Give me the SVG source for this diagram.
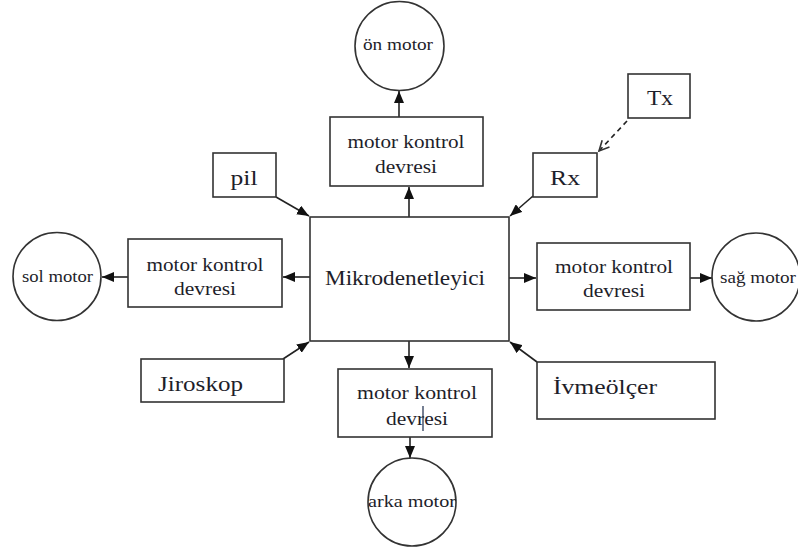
<svg xmlns="http://www.w3.org/2000/svg" width="798" height="548" viewBox="0 0 798 548" font-family="Liberation Serif, Times New Roman, DejaVu Serif, serif">
<style>
.box{fill:#fff;stroke:#333;stroke-width:1.6}
.t{fill:#1e1e2a}
.c{text-anchor:middle}
.ln{stroke:#222;stroke-width:1.6;fill:none}
</style>
<defs>
<marker id="ah" viewBox="0 0 12 10" refX="12" refY="5" markerWidth="12" markerHeight="10" markerUnits="userSpaceOnUse" orient="auto">
<path d="M0,0 L12,5 L0,10 z" fill="#111"/>
</marker>
<marker id="oh" viewBox="0 0 12 12" refX="11" refY="6" markerWidth="12" markerHeight="12" markerUnits="userSpaceOnUse" orient="auto">
<path d="M1,1 L11,6 L1,11" fill="none" stroke="#333" stroke-width="1.6"/>
</marker>
</defs>
<rect width="798" height="548" fill="#fff"/>
<g id="connectors">
<line class="ln" x1="409" y1="217" x2="409" y2="187" marker-end="url(#ah)"/>
<line class="ln" x1="399" y1="117" x2="399" y2="91" marker-end="url(#ah)"/>
<line class="ln" x1="310" y1="277" x2="283" y2="277" marker-end="url(#ah)"/>
<line class="ln" x1="128" y1="277" x2="102" y2="277" marker-end="url(#ah)"/>
<line class="ln" x1="509" y1="278" x2="536" y2="278" marker-end="url(#ah)"/>
<line class="ln" x1="690" y1="278" x2="712" y2="278" marker-end="url(#ah)"/>
<line class="ln" x1="409" y1="341" x2="409" y2="368" marker-end="url(#ah)"/>
<line class="ln" x1="410" y1="437" x2="410" y2="458" marker-end="url(#ah)"/>
<line class="ln" x1="276" y1="197" x2="309" y2="216" marker-end="url(#ah)"/>
<line class="ln" x1="533" y1="196" x2="510" y2="216" marker-end="url(#ah)"/>
<line class="ln" x1="627" y1="121" x2="599" y2="151" stroke-dasharray="5,4" marker-end="url(#oh)"/>
<line class="ln" x1="283" y1="359" x2="309" y2="342" marker-end="url(#ah)"/>
<line class="ln" x1="537" y1="362" x2="510" y2="342" marker-end="url(#ah)"/>
</g>
<g id="mikrodenetleyici">
<rect class="box" x="310" y="217" width="199" height="124"/>
<text class="t c" x="405" y="285" font-size="21" textLength="160" lengthAdjust="spacingAndGlyphs">Mikrodenetleyici</text>
</g>
<g id="on-motor">
<circle class="box" cx="399.5" cy="46" r="44.5"/>
<text class="t c" x="398" y="50" font-size="17" textLength="70" lengthAdjust="spacingAndGlyphs">ön motor</text>
</g>
<g id="mkd-top">
<rect class="box" x="330" y="117" width="153" height="69"/>
<text class="t c" x="406" y="148" font-size="19" textLength="117" lengthAdjust="spacingAndGlyphs">motor kontrol</text>
<text class="t c" x="406" y="173" font-size="19" textLength="62" lengthAdjust="spacingAndGlyphs">devresi</text>
</g>
<g id="tx">
<rect class="box" x="628" y="74" width="62" height="44"/>
<text class="t c" x="660" y="105" font-size="21" textLength="26" lengthAdjust="spacingAndGlyphs">Tx</text>
</g>
<g id="rx">
<rect class="box" x="533" y="153" width="64" height="44"/>
<text class="t c" x="565" y="185" font-size="22" textLength="30" lengthAdjust="spacingAndGlyphs">Rx</text>
</g>
<g id="pil">
<rect class="box" x="213" y="153" width="63" height="44"/>
<text class="t c" x="244" y="185" font-size="22" textLength="27" lengthAdjust="spacingAndGlyphs">pil</text>
</g>
<g id="mkd-left">
<rect class="box" x="128" y="239" width="154" height="68"/>
<text class="t c" x="205" y="271" font-size="19" textLength="117" lengthAdjust="spacingAndGlyphs">motor kontrol</text>
<text class="t c" x="205" y="295" font-size="19" textLength="62" lengthAdjust="spacingAndGlyphs">devresi</text>
</g>
<g id="sol-motor">
<circle class="box" cx="57" cy="276.5" r="44"/>
<text class="t c" x="57.5" y="282" font-size="17" textLength="71" lengthAdjust="spacingAndGlyphs">sol motor</text>
</g>
<g id="mkd-right">
<rect class="box" x="537" y="243" width="153" height="67"/>
<text class="t c" x="614" y="273" font-size="19" textLength="118" lengthAdjust="spacingAndGlyphs">motor kontrol</text>
<text class="t c" x="614" y="297" font-size="19" textLength="62" lengthAdjust="spacingAndGlyphs">devresi</text>
</g>
<g id="sag-motor">
<circle class="box" cx="756" cy="277" r="44"/>
<text class="t c" x="758" y="283" font-size="17" textLength="76" lengthAdjust="spacingAndGlyphs">sağ motor</text>
</g>
<g id="mkd-bottom">
<rect class="box" x="338" y="369" width="154" height="68"/>
<text class="t c" x="417" y="399" font-size="19" textLength="120" lengthAdjust="spacingAndGlyphs">motor kontrol</text>
<text class="t c" x="417" y="425" font-size="19" textLength="62" lengthAdjust="spacingAndGlyphs">devresi</text>
<line x1="423" y1="406" x2="423" y2="431" stroke="#1a2a4a" stroke-width="1.2"/>
</g>
<g id="arka-motor">
<circle class="box" cx="412" cy="502" r="44"/>
<text class="t c" x="412" y="507" font-size="17" textLength="88" lengthAdjust="spacingAndGlyphs">arka motor</text>
</g>
<g id="jiroskop">
<rect class="box" x="141" y="359" width="143" height="43"/>
<text class="t" x="158" y="391" font-size="22" textLength="85" lengthAdjust="spacingAndGlyphs">Jiroskop</text>
</g>
<g id="ivmeolcer">
<rect class="box" x="537" y="362" width="178" height="57"/>
<text class="t" x="553" y="394" font-size="22" textLength="104" lengthAdjust="spacingAndGlyphs">İvmeölçer</text>
</g>
</svg>
